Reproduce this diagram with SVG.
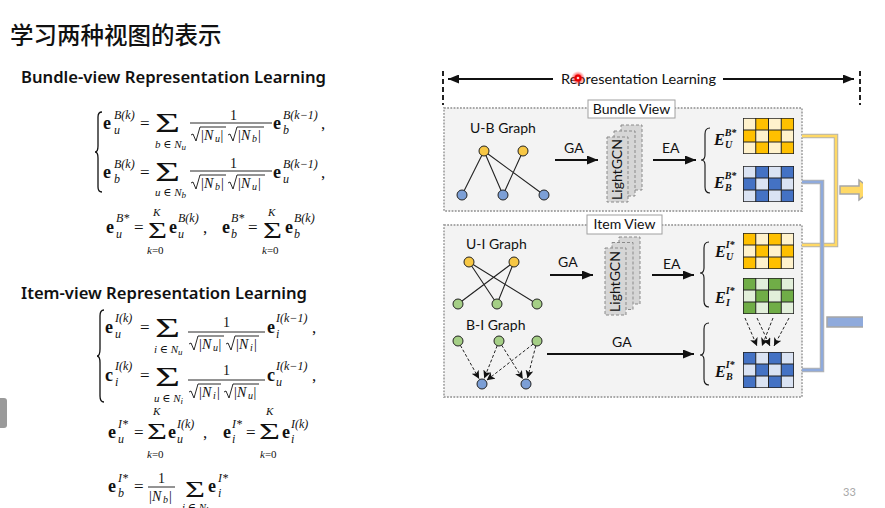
<svg xmlns="http://www.w3.org/2000/svg" xmlns:xlink="http://www.w3.org/1999/xlink" width="885" height="508" viewBox="0 0 885 508">
  <style>
    .m { font-family: "Liberation Serif", "DejaVu Serif", serif; fill: #111; }
    .e { font-weight: bold; font-size: 18px; }
    .s { font-style: italic; font-size: 12px; }
    .r { font-size: 17px; }
    .sg { font-size: 28px; }
    .sg2 { font-size: 24px; }
    .lim { font-style: italic; font-size: 11px; }
    .n { font-size: 14px; }
    .i { font-style: italic; }
    .up { font-style: normal; }
    .fr { stroke: #111; stroke-width: 0.9; }
    .rad { fill: none; stroke: #111; stroke-width: 0.9; }
    .br { fill: none; stroke: #111; stroke-width: 1.3; }
    .lb { font-family: Lato, "Liberation Sans", sans-serif; font-size: 14px; fill: #111; }
    .E { font-family: "Liberation Serif", serif; font-weight: bold; font-style: italic; fill: #111; }
    .view { fill: #f3f3f3; stroke: #a8a8a8; stroke-width: 1.8; stroke-dasharray: 1.8 1.4; }
    .tag { fill: #fff; stroke: #a0a0a0; stroke-width: 1; }
    .gcn { fill: #d6d6d6; stroke: #8a8a8a; stroke-width: 1; stroke-dasharray: 3 2; }
    .ed { stroke: #222; stroke-width: 1.1; fill: none; }
    .dar { stroke: #222; stroke-width: 1; stroke-dasharray: 3 2; fill: none; marker-end: url(#hs); }
    .arr { stroke: #111; stroke-width: 2; fill: none; marker-end: url(#ah); }
    .ny { fill: #F7C744; stroke: #222; stroke-width: 1; }
    .nb { fill: #7C9FD6; stroke: #222; stroke-width: 1; }
    .ng { fill: #A5CF86; stroke: #222; stroke-width: 1; }
    .lt { fill: var(--lt); }
    .dk { fill: var(--dk); }
    .gl { fill: none; stroke: #222; stroke-width: 1; }
  </style>
  <defs>
    <marker id="ah" markerUnits="userSpaceOnUse" markerWidth="11" markerHeight="9" refX="11" refY="4.5" orient="auto">
      <path d="M0,0 L11,4.5 L0,9 z" fill="#111"/>
    </marker>
    <marker id="hs" markerUnits="userSpaceOnUse" markerWidth="8" markerHeight="8" refX="8" refY="4" orient="auto">
      <path d="M0,0 L8,4 L0,8 L2,4 z" fill="#111"/>
    </marker>
    <radialGradient id="glow">
      <stop offset="0" stop-color="#ff1010" stop-opacity="0.95"/>
      <stop offset="0.5" stop-color="#ff2020" stop-opacity="0.7"/>
      <stop offset="1" stop-color="#ff5050" stop-opacity="0"/>
    </radialGradient>
    <!-- 4x3 checker grid, A starts light, B starts dark -->
    <symbol id="gridA" viewBox="0 0 4 3" preserveAspectRatio="none">
      <rect class="lt" x="0" y="0" width="4" height="3"/>
      <rect class="dk" x="1" y="0" width="1" height="1"/><rect class="dk" x="3" y="0" width="1" height="1"/>
      <rect class="dk" x="0" y="1" width="1" height="1"/><rect class="dk" x="2" y="1" width="1" height="1"/>
      <rect class="dk" x="1" y="2" width="1" height="1"/><rect class="dk" x="3" y="2" width="1" height="1"/>
      <path class="gl" vector-effect="non-scaling-stroke" d="M1,0V3M2,0V3M3,0V3M0,1H4M0,2H4"/>
      <rect class="gl" vector-effect="non-scaling-stroke" style="stroke-width:1.6" x="0" y="0" width="4" height="3"/>
    </symbol>
    <symbol id="gridB" viewBox="0 0 4 3" preserveAspectRatio="none">
      <rect class="lt" x="0" y="0" width="4" height="3"/>
      <rect class="dk" x="0" y="0" width="1" height="1"/><rect class="dk" x="2" y="0" width="1" height="1"/>
      <rect class="dk" x="1" y="1" width="1" height="1"/><rect class="dk" x="3" y="1" width="1" height="1"/>
      <rect class="dk" x="0" y="2" width="1" height="1"/><rect class="dk" x="2" y="2" width="1" height="1"/>
      <path class="gl" vector-effect="non-scaling-stroke" d="M1,0V3M2,0V3M3,0V3M0,1H4M0,2H4"/>
      <rect class="gl" vector-effect="non-scaling-stroke" style="stroke-width:1.6" x="0" y="0" width="4" height="3"/>
    </symbol>
  </defs>

  <rect x="0" y="0" width="885" height="508" fill="#fff"/>

  <!-- slide heading and section titles -->
  <g id="title">
    <text x="10" y="44" font-family="'Noto Sans CJK SC', sans-serif" font-size="23.5" font-weight="500" fill="#111">学习两种视图的表示</text>
  </g>
  <g id="heading-bundle">
    <text x="21" y="83" font-family="'Noto Sans', sans-serif" font-size="16.5" font-weight="600" fill="#111" textLength="305" lengthAdjust="spacingAndGlyphs">Bundle-view Representation Learning</text>
  </g>
  <g id="heading-item">
    <text x="21" y="299" font-family="'Noto Sans', sans-serif" font-size="16.5" font-weight="600" fill="#111" textLength="286" lengthAdjust="spacingAndGlyphs">Item-view Representation Learning</text>
  </g>

  <!-- bundle-view propagation -->
  <g id="eq-bundle-prop" class="m">
    <path class="br" d="M102,112 Q98,112 98,117 L98,146 Q98,152 95,152 Q98,152 98,158 L98,187 Q98,192 102,192"/>
    <!-- row 1 -->
    <text class="e" x="103" y="129">e</text>
    <text class="s" x="114" y="119">B(k)</text>
    <text class="s" x="114" y="134">u</text>
    <text class="r" x="140" y="129">=</text>
    <text class="sg" x="155" y="132" textLength="25" lengthAdjust="spacingAndGlyphs">Σ</text>
    <text class="lim" x="155" y="148" font-size="12">b<tspan class="up"> ∈ </tspan>N<tspan font-size="9" dy="2">u</tspan></text>
    <text class="n" x="230" y="120">1</text>
    <line class="fr" x1="190" y1="123" x2="272" y2="123"/>
    <path class="rad" d="M191,135 L193,134 L196,141 L200,127 H226"/>
    <text class="n" y="140"><tspan x="201">|</tspan><tspan x="204" class="i">N</tspan><tspan x="215" class="i" font-size="10" dy="2">u</tspan><tspan x="220.5" dy="-2">|</tspan></text>
    <path class="rad" d="M228,135 L230,134 L233,141 L237,127 H264"/>
    <text class="n" y="140"><tspan x="238">|</tspan><tspan x="241" class="i">N</tspan><tspan x="252" class="i" font-size="10" dy="2">b</tspan><tspan x="258" dy="-2">|</tspan></text>
    <text class="e" x="273" y="129">e</text>
    <text class="s" x="283" y="119">B(k−1)</text>
    <text class="s" x="283" y="134">b</text>
    <text class="r" x="321" y="129">,</text>
    <!-- row 2 -->
    <text class="e" x="103" y="178">e</text>
    <text class="s" x="114" y="168">B(k)</text>
    <text class="s" x="114" y="183">b</text>
    <text class="r" x="140" y="178">=</text>
    <text class="sg" x="155" y="181" textLength="25" lengthAdjust="spacingAndGlyphs">Σ</text>
    <text class="lim" x="155" y="196" font-size="12">u<tspan class="up"> ∈ </tspan>N<tspan font-size="9" dy="2">b</tspan></text>
    <text class="n" x="230" y="168">1</text>
    <line class="fr" x1="190" y1="171" x2="272" y2="171"/>
    <path class="rad" d="M191,183 L193,182 L196,189 L200,175 H226"/>
    <text class="n" y="188"><tspan x="201">|</tspan><tspan x="204" class="i">N</tspan><tspan x="215" class="i" font-size="10" dy="2">b</tspan><tspan x="221" dy="-2">|</tspan></text>
    <path class="rad" d="M228,183 L230,182 L233,189 L237,175 H265"/>
    <text class="n" y="188"><tspan x="238">|</tspan><tspan x="241" class="i">N</tspan><tspan x="252" class="i" font-size="10" dy="2">u</tspan><tspan x="258" dy="-2">|</tspan></text>
    <text class="e" x="273" y="178">e</text>
    <text class="s" x="283" y="168">B(k−1)</text>
    <text class="s" x="283" y="183">u</text>
    <text class="r" x="321" y="178">,</text>
  </g>

  <!-- bundle-view layer sums -->
  <g id="eq-bundle-sum" class="m">
    <text class="e" x="106" y="233">e</text>
    <text class="s" x="116" y="222">B*</text>
    <text class="s" x="116" y="238">u</text>
    <text class="r" x="134" y="233">=</text>
    <text class="sg2" x="148" y="238" textLength="19" lengthAdjust="spacingAndGlyphs">Σ</text>
    <text class="lim" x="153" y="216">K</text>
    <text class="lim" x="147" y="254">k<tspan class="up">=0</tspan></text>
    <text class="e" x="169" y="233">e</text>
    <text class="s" x="178" y="222">B(k)</text>
    <text class="s" x="178" y="238">u</text>
    <text class="r" x="203" y="233">,</text>
    <text class="e" x="222" y="233">e</text>
    <text class="s" x="231" y="222">B*</text>
    <text class="s" x="231" y="238">b</text>
    <text class="r" x="248" y="233">=</text>
    <text class="sg2" x="263" y="238" textLength="19" lengthAdjust="spacingAndGlyphs">Σ</text>
    <text class="lim" x="268" y="216">K</text>
    <text class="lim" x="262" y="254">k<tspan class="up">=0</tspan></text>
    <text class="e" x="285" y="233">e</text>
    <text class="s" x="294" y="222">B(k)</text>
    <text class="s" x="294" y="238">b</text>
  </g>

  <!-- item-view propagation -->
  <g id="eq-item-prop" class="m">
    <path class="br" d="M104,310 Q100,310 100,316 L100,349 Q100,356 97,356 Q100,356 100,363 L100,396 Q100,402 104,402"/>
    <!-- row 1 -->
    <text class="e" x="105" y="333">e</text>
    <text class="s" x="115" y="322">I(k)</text>
    <text class="s" x="115" y="338">u</text>
    <text class="r" x="140" y="333">=</text>
    <text class="sg" x="155" y="337" textLength="25" lengthAdjust="spacingAndGlyphs">Σ</text>
    <text class="lim" x="154" y="353" font-size="12">i<tspan class="up"> ∈ </tspan>N<tspan font-size="9" dy="2">u</tspan></text>
    <text class="n" x="223" y="327">1</text>
    <line class="fr" x1="188" y1="332" x2="265" y2="332"/>
    <path class="rad" d="M189,344 L191,343 L194,350 L198,336 H224"/>
    <text class="n" y="349"><tspan x="199">|</tspan><tspan x="202" class="i">N</tspan><tspan x="213" class="i" font-size="10" dy="2">u</tspan><tspan x="218.5" dy="-2">|</tspan></text>
    <path class="rad" d="M226,344 L228,343 L231,350 L235,336 H259"/>
    <text class="n" y="349"><tspan x="236">|</tspan><tspan x="239" class="i">N</tspan><tspan x="250" class="i" font-size="10" dy="2">i</tspan><tspan x="254" dy="-2">|</tspan></text>
    <text class="e" x="267" y="333">e</text>
    <text class="s" x="276" y="322">I(k−1)</text>
    <text class="s" x="276" y="338">i</text>
    <text class="r" x="312" y="333">,</text>
    <!-- row 2 -->
    <text class="e" x="105" y="381">c</text>
    <text class="s" x="115" y="370">I(k)</text>
    <text class="s" x="115" y="386">i</text>
    <text class="r" x="140" y="381">=</text>
    <text class="sg" x="155" y="386" textLength="25" lengthAdjust="spacingAndGlyphs">Σ</text>
    <text class="lim" x="154" y="402" font-size="12">u<tspan class="up"> ∈ </tspan>N<tspan font-size="9" dy="2">i</tspan></text>
    <text class="n" x="223" y="375">1</text>
    <line class="fr" x1="188" y1="380" x2="265" y2="380"/>
    <path class="rad" d="M189,392 L191,391 L194,398 L198,384 H221"/>
    <text class="n" y="397"><tspan x="199">|</tspan><tspan x="202" class="i">N</tspan><tspan x="213" class="i" font-size="10" dy="2">i</tspan><tspan x="217" dy="-2">|</tspan></text>
    <path class="rad" d="M224,392 L226,391 L229,398 L233,384 H259"/>
    <text class="n" y="397"><tspan x="234">|</tspan><tspan x="237" class="i">N</tspan><tspan x="248" class="i" font-size="10" dy="2">u</tspan><tspan x="253.5" dy="-2">|</tspan></text>
    <text class="e" x="267" y="381">c</text>
    <text class="s" x="276" y="370">I(k−1)</text>
    <text class="s" x="276" y="386">u</text>
    <text class="r" x="312" y="381">,</text>
  </g>

  <!-- item-view layer sums and bundle pooling -->
  <g id="eq-item-sum" class="m">
    <text class="e" x="108" y="438">e</text>
    <text class="s" x="118" y="428">I*</text>
    <text class="s" x="118" y="443">u</text>
    <text class="r" x="134" y="438">=</text>
    <text class="sg2" x="147" y="439" textLength="20" lengthAdjust="spacingAndGlyphs">Σ</text>
    <text class="lim" x="153" y="415">K</text>
    <text class="lim" x="147" y="458">k<tspan class="up">=0</tspan></text>
    <text class="e" x="168" y="438">e</text>
    <text class="s" x="177" y="428">I(k)</text>
    <text class="s" x="177" y="443">u</text>
    <text class="r" x="203" y="438">,</text>
    <text class="e" x="223" y="438">e</text>
    <text class="s" x="232" y="428">I*</text>
    <text class="s" x="232" y="443">i</text>
    <text class="r" x="246" y="438">=</text>
    <text class="sg2" x="259" y="439" textLength="21" lengthAdjust="spacingAndGlyphs">Σ</text>
    <text class="lim" x="266" y="415">K</text>
    <text class="lim" x="260" y="458">k<tspan class="up">=0</tspan></text>
    <text class="e" x="282" y="438">e</text>
    <text class="s" x="291" y="428">I(k)</text>
    <text class="s" x="291" y="443">i</text>
  </g>
  <g id="eq-bundle-pool" class="m">
    <text class="e" x="108" y="492">e</text>
    <text class="s" x="118" y="482">I*</text>
    <text class="s" x="118" y="497">b</text>
    <text class="r" x="134" y="492">=</text>
    <text class="n" x="158" y="483">1</text>
    <line class="fr" x1="148" y1="487" x2="175" y2="487"/>
    <text class="n" y="501"><tspan x="149">|</tspan><tspan x="152" class="i">N</tspan><tspan x="163" class="i" font-size="10" dy="2">b</tspan><tspan x="169" dy="-2">|</tspan></text>
    <text class="sg2" x="185" y="497" textLength="20" lengthAdjust="spacingAndGlyphs">Σ</text>
    <text class="lim" x="182" y="511" font-size="12">i<tspan class="up"> ∈ </tspan>N<tspan font-size="9" dy="2">b</tspan></text>
    <text class="e" x="208" y="492">e</text>
    <text class="s" x="218" y="482">I*</text>
    <text class="s" x="218" y="497">i</text>
  </g>

  <!-- framework figure -->
  <g id="rep-learning-span">
    <text class="lb" x="561" y="84" textLength="155" lengthAdjust="spacingAndGlyphs">Representation Learning</text>
    <line x1="443" y1="71" x2="443" y2="105" stroke="#222" stroke-width="2" stroke-dasharray="5 3"/>
    <line x1="860" y1="71" x2="860" y2="105" stroke="#222" stroke-width="2" stroke-dasharray="5 3"/>
  </g>

  <g id="bundle-view">
    <rect class="view" x="444" y="108" width="358" height="103"/>
    <rect class="tag" x="588" y="100" width="87" height="18"/>
    <text class="lb" x="631.5" y="114" text-anchor="middle">Bundle View</text>
  </g>
  <g id="item-view">
    <rect class="view" x="444" y="225" width="358" height="172"/>
    <rect class="tag" x="587" y="215" width="75" height="19"/>
    <text class="lb" x="624.5" y="229" text-anchor="middle">Item View</text>
  </g>

  <g id="ub-graph">
    <text class="lb" x="470" y="133">U-B Graph</text>
    <path class="ed" d="M484,151 L462,195 M484,151 L503,195 M484,151 L544,195 M523,151 L503,195"/>
    <circle class="ny" cx="484" cy="151" r="5"/>
    <circle class="ny" cx="523" cy="151" r="5"/>
    <circle class="nb" cx="462" cy="195" r="5"/>
    <circle class="nb" cx="503" cy="195" r="5"/>
    <circle class="nb" cx="544" cy="195" r="5"/>
  </g>

  <g id="ui-graph">
    <text class="lb" x="466" y="249">U-I Graph</text>
    <path class="ed" d="M469,262 L497,304 M469,262 L537,304 M514,262 L458,304 M514,262 L497,304"/>
    <circle class="ny" cx="469" cy="262" r="5"/>
    <circle class="ny" cx="514" cy="262" r="5"/>
    <circle class="ng" cx="458" cy="304" r="5"/>
    <circle class="ng" cx="497" cy="304" r="5"/>
    <circle class="ng" cx="537" cy="304" r="5"/>
  </g>

  <g id="bi-graph">
    <text class="lb" x="466" y="330">B-I Graph</text>
    <path class="dar" d="M460.4,345.4 L479.1,378.8"/>
    <path class="dar" d="M497.2,345.7 L484.2,378.4"/>
    <path class="dar" d="M501.7,345.2 L522.8,378.9"/>
    <path class="dar" d="M533.1,344.1 L486.7,380.3"/>
    <path class="dar" d="M535.8,345.8 L527.5,378.2"/>
    <circle class="ng" cx="458" cy="341" r="5"/>
    <circle class="ng" cx="499" cy="341" r="5"/>
    <circle class="ng" cx="537" cy="341" r="5"/>
    <circle class="nb" cx="482" cy="384" r="5"/>
    <circle class="nb" cx="526" cy="384" r="5"/>
  </g>

  <g id="lightgcn-bundle">
    <rect class="gcn" x="621" y="125" width="21" height="65"/>
    <rect class="gcn" x="614" y="131" width="21" height="65"/>
    <rect class="gcn" x="607" y="137" width="21" height="65"/>
    <text class="lb" font-size="12" text-anchor="middle" transform="translate(622,169.5) rotate(-90)">LightGCN</text>
  </g>
  <g id="lightgcn-item">
    <rect class="gcn" x="619" y="237" width="21" height="67"/>
    <rect class="gcn" x="612" y="242.5" width="21" height="67"/>
    <rect class="gcn" x="605" y="248" width="21" height="67"/>
    <text class="lb" font-size="12" text-anchor="middle" transform="translate(620,281.5) rotate(-90)">LightGCN</text>
  </g>

  <g id="bundle-embeddings">
    <path class="br" style="stroke-width:1.1" d="M710,128 Q705,128 705,134 L705,155 Q705,160 701,160 Q705,160 705,165 L705,187 Q705,193 710,193"/>
    <text class="E" x="714" y="145" font-size="16">E<tspan font-size="10" dy="-9">B*</tspan><tspan font-size="10" x="725" dy="12">U</tspan></text>
    <text class="E" x="714" y="188" font-size="16">E<tspan font-size="10" dy="-9">B*</tspan><tspan font-size="10" x="725" dy="12">B</tspan></text>
    <use href="#gridA" x="743" y="118" width="51" height="36" style="--lt:#FFF2CC;--dk:#FFC000"/>
    <use href="#gridA" x="743" y="166" width="51" height="36" style="--lt:#DAE3F3;--dk:#4472C4"/>
  </g>

  <g id="item-embeddings">
    <path class="br" style="stroke-width:1.1" d="M709,242 Q704,242 704,248 L704,268 Q704,273 700,273 Q704,273 704,278 L704,301 Q704,307 709,307"/>
    <path class="br" style="stroke-width:1.1" d="M709,323 Q704,323 704,329 L704,350 Q704,355 700,355 Q704,355 704,360 L704,379 Q704,385 709,385"/>
    <text class="E" x="715" y="257" font-size="16">E<tspan font-size="10" dy="-9">I*</tspan><tspan font-size="10" x="726" dy="12">U</tspan></text>
    <text class="E" x="715" y="303" font-size="16">E<tspan font-size="10" dy="-9">I*</tspan><tspan font-size="10" x="726" dy="12">I</tspan></text>
    <text class="E" x="715" y="377" font-size="16">E<tspan font-size="10" dy="-9">I*</tspan><tspan font-size="10" x="726" dy="12">B</tspan></text>
    <use href="#gridB" x="743" y="233" width="51" height="36" style="--lt:#FFF2CC;--dk:#FFC000"/>
    <use href="#gridB" x="743" y="278" width="51" height="36" style="--lt:#E2EFDA;--dk:#70AD47"/>
    <use href="#gridB" x="743" y="352" width="51" height="36" style="--lt:#DAE3F3;--dk:#4472C4"/>
  </g>

  <!-- connectors -->
  <g id="connectors">
    <line class="arr" x1="553" y1="79" x2="448" y2="79"/>
    <line class="arr" x1="723" y1="79" x2="854" y2="79"/>
    <text class="lb" x="564" y="153">GA</text>
    <line class="arr" x1="555" y1="160" x2="598" y2="160"/>
    <text class="lb" x="662" y="153">EA</text>
    <line class="arr" x1="653" y1="160" x2="696" y2="160"/>
    <text class="lb" x="558" y="267">GA</text>
    <line class="arr" x1="550" y1="275" x2="593" y2="275"/>
    <text class="lb" x="663" y="269">EA</text>
    <line class="arr" x1="652" y1="275" x2="694" y2="275"/>
    <text class="lb" x="612" y="347">GA</text>
    <line class="arr" x1="547" y1="354" x2="694" y2="354"/>
    <!-- item embeddings pooled into bundle embeddings -->
    <path class="dar" d="M745,318 L757,346"/>
    <path class="dar" d="M757,318 L770,346"/>
    <path class="dar" d="M773,318 L762,346"/>
    <path class="dar" d="M789,318 L774,346"/>
    <!-- user / bundle representation links -->
    <path d="M802,136 H836 V245 H802" fill="none" stroke="#b3b3b3" stroke-width="4.5"/>
    <path d="M802,136 H836 V245 H802" fill="none" stroke="#FFD966" stroke-width="2.5"/>
    <path d="M802,182 H822 V370 H802" fill="none" stroke="#b3b3b3" stroke-width="4.5"/>
    <path d="M802,182 H822 V370 H802" fill="none" stroke="#8FAADC" stroke-width="2.5"/>
    <path d="M840,186 H859 V180 L872,190 L859,200 V194 H840 z" fill="#FFD966" stroke="#a6a6a6" stroke-width="1.5"/>
    <rect x="827" y="317" width="45" height="10" fill="#8FAADC" stroke="#a6a6a6" stroke-width="1.5"/>
  </g>
  <!-- figure is cropped at its right edge -->
  <rect x="863" y="60" width="22" height="360" fill="#fff"/>

  <!-- laser pointer -->
  <circle cx="578" cy="78" r="7" fill="url(#glow)"/>
  <circle cx="578" cy="78" r="3.5" fill="#e80000"/>
  <circle cx="578" cy="78" r="1.3" fill="#ffd0d0"/>

  <!-- slide chrome -->
  <rect x="-4" y="398" width="11" height="30" rx="3" fill="#9a9a9a"/>
  <text x="843" y="496" font-family="Lato, 'Liberation Sans', sans-serif" font-size="11" fill="#a8a8a8">33</text>
</svg>
